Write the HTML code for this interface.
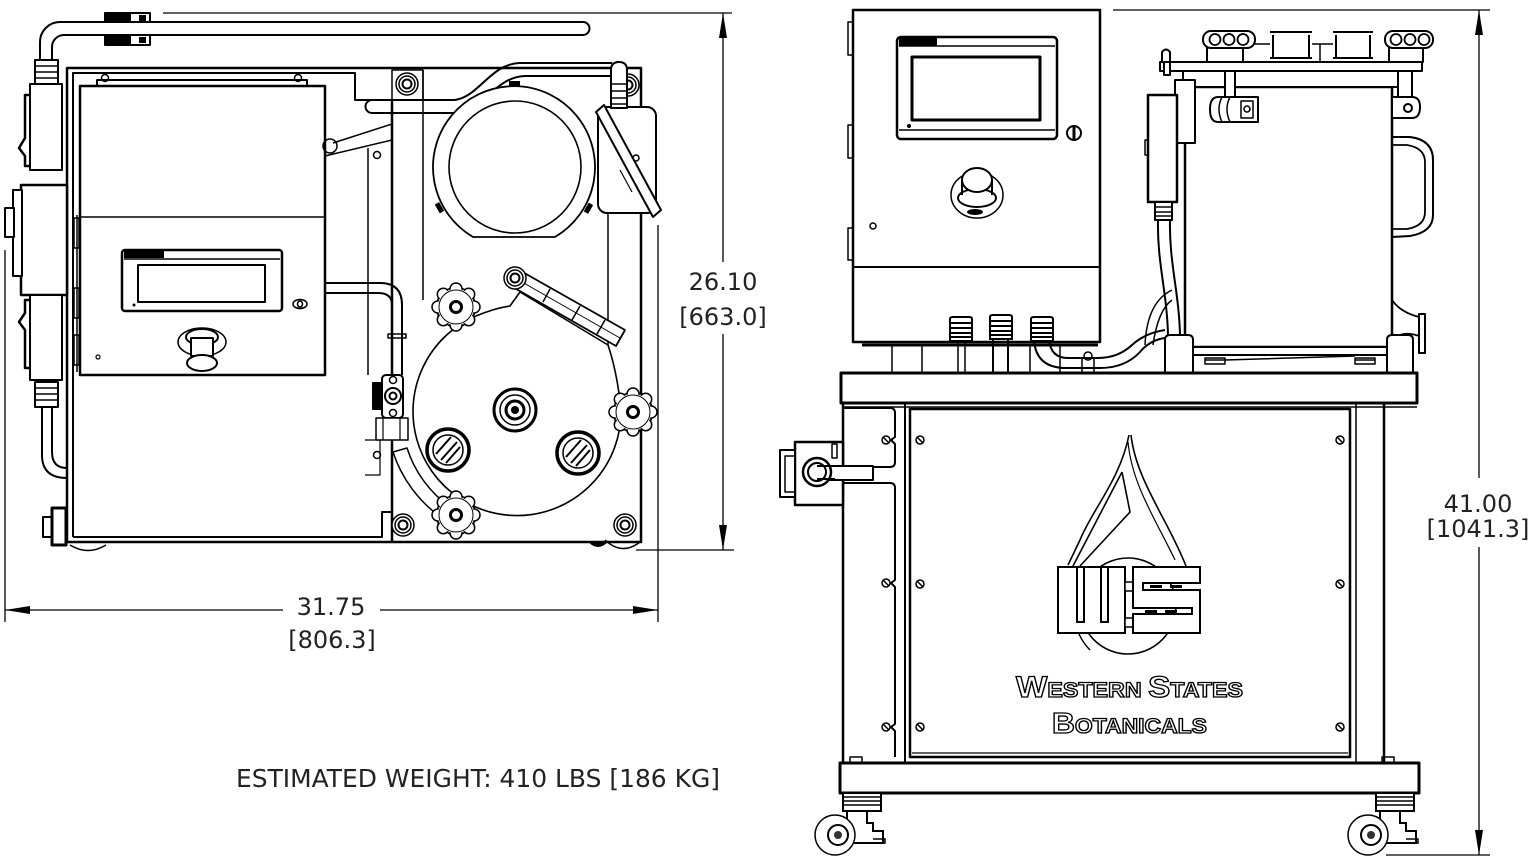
<!DOCTYPE html>
<html><head><meta charset="utf-8">
<style>html,body{margin:0;padding:0;background:#fff;overflow:hidden;width:1532px;height:867px}svg{display:block}</style>
</head><body>
<svg width="1532" height="867" viewBox="0 0 1532 867" xmlns="http://www.w3.org/2000/svg">
<defs>
<g id="knob">
  <circle r="19.5" fill="#fff" stroke="#000" stroke-width="1.6"/>
  <circle cx="18" cy="0" r="6" fill="#fff" stroke="#000" stroke-width="1.5"/>
  <circle cx="12.7" cy="12.7" r="6" fill="#fff" stroke="#000" stroke-width="1.5"/>
  <circle cx="0" cy="18" r="6" fill="#fff" stroke="#000" stroke-width="1.5"/>
  <circle cx="-12.7" cy="12.7" r="6" fill="#fff" stroke="#000" stroke-width="1.5"/>
  <circle cx="-18" cy="0" r="6" fill="#fff" stroke="#000" stroke-width="1.5"/>
  <circle cx="-12.7" cy="-12.7" r="6" fill="#fff" stroke="#000" stroke-width="1.5"/>
  <circle cx="0" cy="-18" r="6" fill="#fff" stroke="#000" stroke-width="1.5"/>
  <circle cx="12.7" cy="-12.7" r="6" fill="#fff" stroke="#000" stroke-width="1.5"/>
  <circle r="18.2" fill="#fff"/>
  <circle r="17" fill="none" stroke="#000" stroke-width="1"/>
  <circle r="5.5" fill="none" stroke="#000" stroke-width="3"/>
</g>
<g id="bolt">
  <circle r="11" fill="#fff" stroke="#000" stroke-width="1.5"/>
  <circle r="8" fill="none" stroke="#000" stroke-width="1.5"/>
  <circle r="4.5" fill="none" stroke="#000" stroke-width="2"/>
</g>
<g id="gland">
  <path d="M-11,2 Q-11,0 -8,0 H8 Q11,0 11,2 V24 H-11 Z" fill="#fff" stroke="#000" stroke-width="2"/>
  <path d="M-11,6 H11 M-10,11 H10 M-10,16 H10 M-10,20 H10" stroke="#000" stroke-width="2"/>
</g>
<g id="caster">
  <rect x="0" y="0" width="38" height="18" fill="#fff" stroke="#000" stroke-width="2"/>
  <path d="M0,4 H38 M0,8 H38 M0,12 H38" stroke="#000" stroke-width="1.5"/>
  <path d="M4,18 V26 Q-6,30 -8,42 M24,18 V30 H30 V38 H40 V50 H10" fill="none" stroke="#000" stroke-width="2"/>
  <circle cx="-8" cy="42" r="20" fill="#fff" stroke="#000" stroke-width="1.5"/>
  <circle cx="-5" cy="42" r="10" fill="#fff" stroke="#000" stroke-width="2"/>
  <circle cx="-5" cy="42" r="4" fill="#333"/>
  <path d="M10,50 H42 V46 H30" fill="none" stroke="#000" stroke-width="1.5"/>
</g>
</defs>

<!-- ================= DIMENSIONS ================= -->
<g stroke="#000" stroke-width="1.3" fill="none">
  <line x1="5" y1="250" x2="5" y2="622"/>
  <line x1="658" y1="225" x2="658" y2="622"/>
  <line x1="5" y1="610" x2="283" y2="610"/>
  <line x1="380" y1="610" x2="658" y2="610"/>
  <line x1="163" y1="13" x2="732" y2="13"/>
  <line x1="636" y1="550" x2="734" y2="550"/>
  <line x1="723" y1="13" x2="723" y2="262"/>
  <line x1="723" y1="334" x2="723" y2="550"/>
  <line x1="1113" y1="10" x2="1490" y2="10"/>
  <line x1="1386" y1="855" x2="1490" y2="855"/>
  <line x1="1479" y1="10" x2="1479" y2="478"/>
  <line x1="1479" y1="547" x2="1479" y2="855"/>
</g>
<g fill="#000">
  <polygon points="5,610 30,606 30,614"/>
  <polygon points="658,610 633,606 633,614"/>
  <polygon points="723,13 719,38 727,38"/>
  <polygon points="723,550 719,525 727,525"/>
  <polygon points="1479,10 1475,35 1483,35"/>
  <polygon points="1479,855 1475,830 1483,830"/>
</g>
<g font-family="'DejaVu Sans', 'Liberation Sans', sans-serif" font-size="24" fill="#222" text-anchor="middle">
  <text x="723" y="290">26.10</text>
  <text x="723" y="325">[663.0]</text>
  <text x="331" y="615">31.75</text>
  <text x="332" y="648">[806.3]</text>
  <text x="1478" y="512">41.00</text>
  <text x="1478" y="537">[1041.3]</text>
</g>
<text x="236" y="787" font-family="'DejaVu Sans', 'Liberation Sans', sans-serif" font-size="25" fill="#222" textLength="484" lengthAdjust="spacingAndGlyphs">ESTIMATED WEIGHT: 410 LBS [186 KG]</text>

<!-- ================= TOP VIEW (LEFT) ================= -->
<g fill="none" stroke="#000" stroke-width="2" stroke-linejoin="round">
  <path d="M40,62 V42 A20,20 0 0 1 60,22 H583 A6.5,6.5 0 0 1 583,35 H64 A12,12 0 0 0 52,47 V62" fill="#fff"/>
  <rect x="105" y="13" width="25" height="9" fill="#000"/>
  <rect x="130" y="13" width="20" height="9" fill="#fff"/>
  <rect x="139" y="15" width="7" height="6" fill="#000" stroke="none"/>
  <rect x="105" y="35" width="25" height="10" fill="#000"/>
  <rect x="130" y="35" width="20" height="10" fill="#fff"/>
  <rect x="139" y="37" width="7" height="6" fill="#000" stroke="none"/>

  <rect x="67" y="68" width="574" height="474" stroke-width="2.5" fill="#fff"/>
  <path d="M73,537 V73 H355 V100 H392"/>
  <path d="M73,537 H382 V512 H392"/>
  <path d="M77,215 V372" stroke-width="1.5"/>
  <rect x="74" y="218" width="5" height="30" stroke-width="1.5"/>
  <rect x="74" y="288" width="5" height="30" stroke-width="1.5"/>
  <rect x="74" y="335" width="5" height="30" stroke-width="1.5"/>

  <rect x="35" y="60" width="23" height="24" fill="#fff"/>
  <path d="M35,66 H58 M35,72 H58 M35,78 H58" stroke-width="1.5"/>
  <rect x="30" y="84" width="32" height="86" fill="#fff"/>
  <path d="M30,95 H25 V138 L19,148 L25,156 V166 H30" stroke-width="2.5"/>
  <rect x="21" y="185" width="46" height="110" stroke-width="2.5" fill="#fff"/>
  <rect x="13" y="190" width="9" height="86" fill="#fff"/>
  <rect x="5" y="208" width="9" height="29" fill="#fff"/>
  <rect x="30" y="295" width="32" height="85" fill="#fff"/>
  <path d="M30,300 H25 V313 L19,322 L25,330 V368 H30" stroke-width="2.5"/>
  <rect x="35" y="382" width="23" height="25" fill="#fff"/>
  <path d="M35,388 H58 M35,394 H58 M35,400 H58" stroke-width="1.5"/>
  <path d="M42,407 V455 Q42,478 67,478"/>
  <path d="M52,407 V452 Q52,468 67,468"/>
  <rect x="43" y="517" width="9" height="20" fill="#fff"/>
  <rect x="52" y="508" width="14" height="37" fill="#fff" stroke-width="3"/>
  <path d="M70,545 Q88,556 106,545" stroke-width="1.5"/>

  <rect x="97" y="80" width="210" height="6" fill="#fff"/>
  <circle cx="105" cy="78" r="3.5" stroke-width="1.5"/>
  <circle cx="298" cy="78" r="3.5" stroke-width="1.5"/>
  <rect x="80" y="86" width="245" height="289" stroke-width="2.5" fill="#fff"/>
  <line x1="80" y1="217" x2="325" y2="217" stroke-width="1.5"/>
  <rect x="122" y="250" width="160" height="61" rx="3" stroke-width="2.5"/>
  <line x1="124" y1="259" x2="280" y2="259" stroke-width="1.5"/>
  <rect x="124" y="251" width="40" height="7" fill="#000" stroke="none"/>
  <rect x="138" y="265" width="127" height="37" stroke-width="2"/>
  <circle cx="134" cy="305" r="1.5" fill="#000" stroke="none"/>
  <ellipse cx="300" cy="304" rx="7" ry="4.5" stroke-width="1.5"/>
  <ellipse cx="300" cy="304" rx="2.5" ry="3" stroke-width="1.5"/>
  <ellipse cx="202" cy="342" rx="24" ry="14" stroke-width="1.5"/>
  <ellipse cx="202" cy="337" rx="16" ry="8" stroke-width="2"/>
  <rect x="191" y="338" width="22" height="18" fill="#fff" stroke-width="2"/>
  <ellipse cx="202" cy="363" rx="15" ry="8" fill="#fff" stroke-width="2"/>
  <circle cx="98" cy="357" r="2" stroke-width="1.2"/>

  <path d="M325,156 L392,140 M333,143 L392,124" stroke-width="1.5"/>
  <circle cx="330" cy="146" r="7" stroke-width="1.5"/>
  <line x1="368" y1="148" x2="368" y2="375" stroke-width="1.5"/>
  <circle cx="377" cy="155" r="3.5" stroke-width="1.5"/>
  <circle cx="377" cy="455" r="3.5" stroke-width="1.5"/>
  <path d="M365,440 H380 V475 H365" stroke-width="1.2"/>
  <path d="M325,283 H380 Q402,283 402,305 V375" fill="none"/>
  <path d="M325,293 H378 Q392,293 392,305 V375"/>
  <rect x="388" y="334" width="18" height="4" stroke-width="1.5"/>

  <line x1="392" y1="100" x2="392" y2="542" stroke-width="2.5"/>
  <rect x="392" y="70" width="31" height="30" stroke-width="1.5"/>
  <line x1="423" y1="70" x2="423" y2="300" stroke-width="1.5"/>
  <line x1="608" y1="213" x2="608" y2="357" stroke-width="1.5"/>
  <path d="M605,540 Q622,556 640,542" stroke-width="1.5"/>
  <path d="M590,543 Q598,550 606,543" fill="#000" stroke-width="1"/>
</g>
<use href="#bolt" x="407" y="84"/>
<use href="#bolt" x="628" y="85"/>
<use href="#bolt" x="403" y="525"/>
<use href="#bolt" x="625" y="525"/>

<g fill="none" stroke="#000" stroke-width="2" stroke-linejoin="round">
  <path d="M372,100 H455 C480,96 490,64 520,63 H612" fill="none"/>
  <path d="M372,113 H455 C485,109 495,77 525,76 H612"/>
  <path d="M372,100 A6.5,6.5 0 0 0 372,113"/>
  <path d="M473,237 A81,81 0 1 1 555,237 Z" fill="#fff" stroke-width="1.8"/>
  <circle cx="515" cy="167" r="66" fill="#fff" stroke-width="1.6"/>
  <rect x="509" y="81" width="11" height="5" fill="#000" stroke="none"/>
  <rect x="437" y="203" width="5" height="10" fill="#000" stroke="none" transform="rotate(-30 439 208)"/>
  <rect x="586" y="203" width="5" height="10" fill="#000" stroke="none" transform="rotate(30 588 208)"/>
  <rect x="598" y="107" width="58" height="106" rx="9" fill="#fff"/>
  <polygon points="596,112 604,105 661,210 653,217" fill="#fff"/>
  <path d="M611,140 L625,166 M620,170 L632,192" stroke-width="1.2"/>
  <circle cx="636" cy="158" r="3" stroke-width="1.5"/>
  <path d="M611,108 V70 Q611,62 619,62 Q627,62 627,70 V108 Z" fill="#fff"/>
  <path d="M610,84 H628 M610,91 H628 M610,98 H628 M610,104 H628" stroke-width="1.5"/>

  <path d="M476,316 Q495,308 510,306 L520,292 L608,345 Q618,375 621,412 A104,104 0 1 1 476,316 Z" fill="#fff" stroke-width="1.6"/>
  <path d="M393,452 A130,130 0 0 0 442,518 L450,507 A116,116 0 0 1 407,448 Z" fill="#fff" stroke-width="1.5"/>
  <polygon points="519,270 625,330 616,346 511,286" fill="#fff" stroke-width="1.8"/>
  <path d="M515,278 L620,338" stroke-width="1"/>
  <path d="M550,289 L543,302 M580,306 L572,320 M605,320 L597,334" stroke-width="1.5"/>
  <circle cx="515" cy="410" r="21" fill="#fff" stroke-width="3"/>
  <circle cx="515" cy="410" r="15" stroke-width="1.5"/>
  <circle cx="515" cy="410" r="9" stroke-width="3"/>
  <circle cx="515" cy="410" r="4" fill="#000" stroke="none"/>
  <circle cx="448" cy="450" r="21" fill="#fff" stroke-width="3.5"/>
  <circle cx="448" cy="450" r="15" stroke-width="1.5"/>
  <path d="M436,454 L451,437 M441,460 L457,442 M446,463 L460,447" stroke-width="2"/>
  <circle cx="578" cy="453" r="21" fill="#fff" stroke-width="3.5"/>
  <circle cx="578" cy="453" r="15" stroke-width="1.5"/>
  <path d="M566,457 L581,440 M571,463 L587,445 M576,466 L590,450" stroke-width="2"/>
  <rect x="373" y="383" width="9" height="26" fill="#000"/>
  <rect x="382" y="375" width="21" height="43" rx="4" fill="#fff" stroke-width="2"/>
  <circle cx="393" cy="380" r="3.5" stroke-width="1.5"/>
  <circle cx="393" cy="396" r="8" stroke-width="2"/>
  <circle cx="393" cy="396" r="3.5" stroke-width="2"/>
  <circle cx="393" cy="413" r="3.5" stroke-width="1.5"/>
  <rect x="376" y="418" width="32" height="22" fill="#fff" stroke-width="1.5"/>
  <path d="M383,418 V440 M400,418 V440" stroke-width="1.2"/>
</g>
<use href="#knob" x="456" y="307"/>
<use href="#knob" x="633" y="412"/>
<use href="#knob" x="456" y="515"/>
<use href="#bolt" x="515" y="278"/>

<!-- ================= FRONT VIEW (RIGHT) ================= -->
<g fill="none" stroke="#000" stroke-width="2" stroke-linejoin="round">
  <rect x="853" y="10" width="247" height="332" stroke-width="2.5" fill="#fff"/>
  <line x1="853" y1="267" x2="1100" y2="267" stroke-width="2"/>
  <rect x="848" y="22" width="5" height="33" stroke-width="1.5"/>
  <rect x="848" y="125" width="5" height="33" stroke-width="1.5"/>
  <rect x="848" y="228" width="5" height="32" stroke-width="1.5"/>
  <rect x="897" y="37" width="160" height="102" rx="4" stroke-width="2.5"/>
  <line x1="899" y1="46" x2="1055" y2="46" stroke-width="1.5"/>
  <line x1="899" y1="130" x2="1055" y2="130" stroke-width="1.5"/>
  <rect x="899" y="38" width="38" height="8" fill="#000" stroke="none"/>
  <rect x="912" y="57" width="128" height="63" stroke-width="3"/>
  <circle cx="909" cy="126" r="2" fill="#000" stroke="none"/>
  <circle cx="1074" cy="133" r="7" stroke-width="2"/>
  <path d="M1074,127 V139" stroke-width="3"/>
  <circle cx="873" cy="226" r="3" stroke-width="1.5"/>
  <ellipse cx="977" cy="195" rx="26" ry="23" stroke-width="1.5"/>
  <ellipse cx="977" cy="198" rx="19" ry="9" stroke-width="2"/>
  <path d="M962,180 V195 M992,180 V195" stroke-width="2"/>
  <ellipse cx="977" cy="180" rx="15" ry="12" fill="#fff" stroke-width="2"/>
  <ellipse cx="975" cy="212" rx="8" ry="3" fill="#000" stroke="none"/>
  <line x1="862" y1="345" x2="1098" y2="345" stroke-width="3"/>
  <path d="M892,345 V372 M922,345 V372 M1030,345 V372 M1060,345 V372" stroke-width="1.5"/>
  <path d="M958,340 V372 M965,340 V372" stroke-width="1.5"/>
  <path d="M993,340 V372 M1008,340 V372" stroke-width="2"/>
  <path d="M1034,340 Q1036,368 1066,368 H1100 Q1125,368 1140,352 Q1150,340 1165,338"/>
  <path d="M1049,340 Q1051,358 1068,358 H1098 Q1118,358 1132,345 Q1145,333 1165,330"/>
  <path d="M1145,345 Q1147,302 1172,290 M1153,345 Q1158,310 1172,300" stroke-width="1.5"/>
  <path d="M1082,372 V358 H1094 V372" stroke-width="1.5"/>
  <circle cx="1088" cy="356" r="4" stroke-width="1.5"/>
</g>
<use href="#gland" x="961" y="317"/>
<use href="#gland" x="1001" y="315"/>
<use href="#gland" x="1042" y="317"/>

<g fill="none" stroke="#000" stroke-width="2" stroke-linejoin="round">
  <rect x="1185" y="87" width="207" height="260" stroke-width="2.5" fill="#fff"/>
  <rect x="1183" y="71" width="215" height="16" fill="#fff"/>
  <rect x="1160" y="62" width="262" height="9" fill="#fff"/>
  <path d="M1270,32 H1312 M1273,35 V58 M1309,35 V58 M1270,62 H1312 M1270,58 H1312" />
  <path d="M1333,32 H1373 M1336,35 V58 M1370,35 V58 M1333,62 H1373 M1333,58 H1373" />
  <path d="M1255,44 H1270 M1312,44 H1333 M1320,44 V62" stroke-width="1.5"/>
  <rect x="1207" y="47" width="36" height="15" fill="#fff"/>
  <rect x="1203" y="31" width="52" height="17" rx="8" fill="#fff" stroke-width="2"/>
  <circle cx="1215" cy="39.5" r="5.5" stroke-width="1.8"/>
  <circle cx="1229" cy="39.5" r="5.5" stroke-width="1.8"/>
  <circle cx="1243" cy="39.5" r="5.5" stroke-width="1.8"/>
  <rect x="1389" y="47" width="34" height="15" fill="#fff"/>
  <rect x="1385" y="31" width="48" height="17" rx="8" fill="#fff" stroke-width="2"/>
  <circle cx="1396" cy="39.5" r="5.5" stroke-width="1.8"/>
  <circle cx="1410" cy="39.5" r="5.5" stroke-width="1.8"/>
  <circle cx="1424" cy="39.5" r="5.5" stroke-width="1.8"/>
  <path d="M1162,62 V52 Q1166,47 1170,52 V62" fill="#fff"/>
  <rect x="1164" y="62" width="6" height="13" fill="#fff"/>
  <rect x="1225" y="71" width="10" height="26" fill="#fff"/>
  <path d="M1218,97 H1258 V122 H1218 Q1210,122 1210,109.5 Q1210,97 1218,97 Z" fill="#fff"/>
  <path d="M1222,97 Q1216,109 1222,122 M1230,97 Q1224,109 1230,122" stroke-width="1.5"/>
  <rect x="1241" y="101" width="12" height="17" stroke-width="1.5"/>
  <circle cx="1247" cy="109" r="3" stroke-width="1.5"/>
  <rect x="1398" y="71" width="14" height="26" fill="#fff"/>
  <path d="M1392,97 H1412 Q1420,97 1420,107 Q1420,118 1412,118 H1392 Z" fill="#fff"/>
  <circle cx="1408" cy="108" r="4" stroke-width="2"/>
  <rect x="1175" y="80" width="20" height="63" fill="#fff"/>
  <rect x="1148" y="95" width="29" height="107" fill="#fff" stroke-width="2.5"/>
  <rect x="1145" y="140" width="3" height="15" stroke-width="1.5"/>
  <rect x="1155" y="202" width="17" height="18" fill="#fff"/>
  <path d="M1155,207 H1172 M1155,212 H1172 M1155,216 H1172" stroke-width="1.5"/>
  <path d="M1158,220 C1157,262 1167,292 1168,335"/>
  <path d="M1170,220 C1169,262 1179,292 1180,335"/>
  <path d="M1392,137 L1410,137 Q1433,140 1433,160 V215 Q1433,232 1410,236 L1392,237" stroke-width="2"/>
  <path d="M1392,145 L1407,145 Q1425,148 1425,162 V212 Q1425,226 1407,229 L1392,229" stroke-width="1.8"/>
  <path d="M1392,300 Q1400,312 1419,317 M1392,340 Q1402,330 1419,336" stroke-width="1.8"/>
  <rect x="1419" y="314" width="6" height="39" fill="#fff" stroke-width="2"/>
  <rect x="1165" y="347" width="248" height="8" fill="#fff"/>
  <path d="M1165,372 V340 Q1165,335 1170,335 H1188 Q1193,335 1193,340 V372" fill="#fff"/>
  <path d="M1387,372 V340 Q1387,335 1392,335 H1408 Q1413,335 1413,340 V372" fill="#fff"/>
  <path d="M1205,360 H1225 M1355,360 H1375 M1225,360 L1355,356" stroke-width="1.5"/>
  <rect x="1205" y="358" width="20" height="6" stroke-width="1.5"/>
  <rect x="1355" y="358" width="20" height="6" stroke-width="1.5"/>

  <rect x="841" y="373" width="576" height="30" stroke-width="3" fill="#fff"/>
  <line x1="843" y1="407" x2="1417" y2="407" stroke-width="1.5"/>
  <path d="M843,408 H890 Q895,408 895,413 V437 L891,440 L895,444 V462 Q895,467 890,467 H843" stroke-width="2"/>
  <path d="M843,483 H890 Q895,483 895,488 V580 L891,583 L895,587 V724 L891,727 L895,731 V757" stroke-width="2"/>
  <line x1="843" y1="403" x2="843" y2="763" stroke-width="2.5"/>
  <line x1="905" y1="403" x2="905" y2="763" stroke-width="2"/>
  <line x1="910" y1="409" x2="910" y2="757" stroke-width="2"/>
  <rect x="910" y="409" width="440" height="348" stroke-width="2.5" fill="#fff"/>
  <line x1="912" y1="753" x2="1348" y2="753" stroke-width="1.2"/>
  <line x1="1356" y1="403" x2="1356" y2="763" stroke-width="1.5"/>
  <line x1="1384" y1="403" x2="1384" y2="763" stroke-width="2.5"/>
  <g stroke-width="1.5">
    <circle cx="886" cy="440" r="4"/><circle cx="886" cy="583" r="4"/><circle cx="886" cy="727" r="4"/>
    <circle cx="920" cy="440" r="4"/><circle cx="920" cy="584" r="4"/><circle cx="920" cy="727" r="4"/>
    <circle cx="1340" cy="440" r="4"/><circle cx="1340" cy="584" r="4"/><circle cx="1340" cy="727" r="4"/>
    <path d="M883,437 L889,443 M883,580 L889,586 M883,724 L889,730 M917,437 L923,443 M917,581 L923,587 M917,724 L923,730 M1337,437 L1343,443 M1337,581 L1343,587 M1337,724 L1343,730"/>
  </g>
  <rect x="795" y="442" width="48" height="63" fill="#fff" stroke-width="2.5"/>
  <rect x="780" y="450" width="15" height="47" fill="#fff" stroke-width="2"/>
  <rect x="785" y="456" width="10" height="36" stroke-width="1.5"/>
  <rect x="832" y="444" width="5" height="14" stroke-width="1.5"/>
  <rect x="817" y="466" width="56" height="14" fill="#fff" stroke-width="2"/>
  <circle cx="817" cy="472" r="14" fill="#fff" stroke-width="2.5"/>
  <circle cx="817" cy="472" r="9" stroke-width="2"/>
  <path d="M817,466 H835 M817,479 H835" stroke-width="2"/>
  <rect x="840" y="763" width="579" height="30" stroke-width="3" fill="#fff"/>
  <rect x="850" y="757" width="12" height="6" stroke-width="1.5"/>
  <rect x="1382" y="757" width="12" height="6" stroke-width="1.5"/>
</g>
<use href="#caster" x="843" y="793"/>
<use href="#caster" x="1376" y="793"/>

<g fill="none" stroke="#000" stroke-width="1.6">
  <path d="M1129,435 C1120,480 1092,510 1080,540 L1068,565"/>
  <path d="M1131,435 C1136,480 1168,520 1186,566"/>
  <path d="M1128,442 C1132,485 1156,520 1175,560" stroke-width="1.2"/>
  <path d="M1122,472 L1073,566 M1122,472 L1130,512 L1080,566"/>
  <circle cx="1128" cy="606" r="48"/>
  <path d="M1078,590 A56,56 0 0 0 1090,650" stroke-width="1.4"/>
  <rect x="1058" y="567" width="67" height="66" fill="#fff" stroke-width="2"/>
  <path d="M1077,567 V622 H1084 V567 M1101,567 V622 H1108 V567" stroke-width="2"/>
  <rect x="1125" y="582" width="8" height="9" fill="#fff" stroke-width="1.5"/>
  <rect x="1125" y="618" width="8" height="9" fill="#fff" stroke-width="1.5"/>
  <path d="M1133,567 H1200 V583 H1143 V590 H1200 V633 H1133 V614 H1192 V608 H1133 Z" fill="#fff" stroke-width="2"/>
</g>
<g fill="#000">
  <rect x="1150" y="585" width="12" height="3"/><rect x="1170" y="585" width="12" height="3"/>
  <rect x="1145" y="610" width="12" height="3"/><rect x="1165" y="610" width="12" height="3"/>
</g>
<g font-family="'Liberation Sans', sans-serif" font-weight="bold" fill="#fff" stroke="#000" stroke-width="1.3">
  <text x="1016" y="697" textLength="227" lengthAdjust="spacingAndGlyphs"><tspan font-size="30">W</tspan><tspan font-size="21">ESTERN </tspan><tspan font-size="30">S</tspan><tspan font-size="21">TATES</tspan></text>
  <text x="1052" y="733" textLength="155" lengthAdjust="spacingAndGlyphs"><tspan font-size="29">B</tspan><tspan font-size="21">OTANICALS</tspan></text>
</g>
</svg>
</body></html>
